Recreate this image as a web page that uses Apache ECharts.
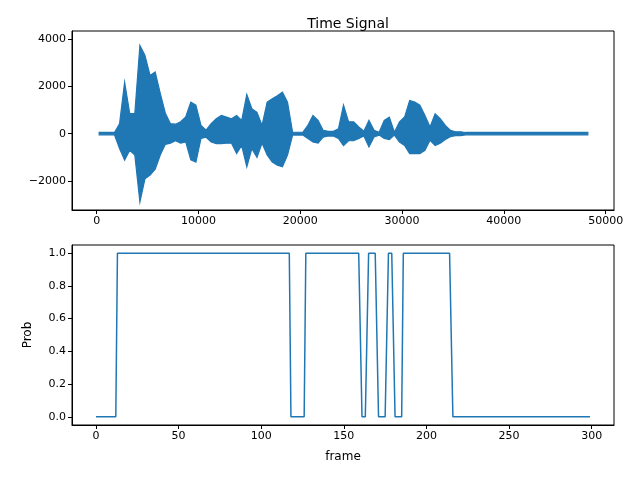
<!DOCTYPE html>
<html>
<head>
<meta charset="utf-8">
<script src="https://cdn.jsdelivr.net/npm/echarts@6/dist/echarts.min.js"></script>
<style>html,body{margin:0;padding:0;background:#fff}#EchartBox{width:640px;height:480px}</style>
</head>
<body>
<div id="EchartBox"></div>
<script>
// waveform envelope, one value per 500 samples
var binSize = 500;
var envHigh = [50,50,50,50,420,2170,850,850,3720,3300,2450,2600,1700,860,420,400,500,700,1330,1200,
	350,150,420,630,770,700,630,770,560,1650,1050,900,350,1330,1470,1600,1750,1330,60,60,
	60,350,770,560,140,100,100,200,1200,500,500,280,100,560,140,60,560,700,60,500,
	700,1400,1330,1200,770,280,840,630,350,140,80,80,50,50,50,50,50,50,50,50,
	50,50,50,50,50,50,50,50,50,50,50,50,50,50,50,50,50];
var envLow = [-50,-50,-50,-50,-630,-1120,-700,-900,-2880,-1900,-1750,-1500,-900,-450,-400,-300,-400,-350,-1100,-1200,
	-200,-150,-350,-420,-420,-400,-400,-840,-500,-1400,-630,-1000,-400,-900,-1200,-1330,-1400,-900,-60,-60,
	-60,-200,-350,-400,-150,-100,-100,-200,-500,-300,-300,-200,-100,-560,-140,-60,-200,-250,-60,-350,
	-500,-840,-840,-840,-700,-280,-500,-400,-250,-130,-80,-80,-50,-50,-50,-50,-50,-50,-50,-50,
	-50,-50,-50,-50,-50,-50,-50,-50,-50,-50,-50,-50,-50,-50,-50,-50,-50];

// speech probability per frame, as runs [firstFrame, lastFrame, value]
var probRuns = [[0,12,0],[13,117,1],[118,126,0],[127,160,1],[161,164,0],[165,170,1],
	[171,176,0],[177,180,1],[181,185,0],[186,215,1],[216,299,0]];

var topXTicks = [0,10000,20000,30000,40000,50000];
var topYTicks = [-2000,0,2000,4000];
var botXTicks = [0,50,100,150,200,250,300];
var botYTicks = [0,0.2,0.4,0.6,0.8,1.0];

var wave = [];
for (var i = 0; i < envHigh.length; i++) {
	wave.push([i*binSize + binSize/2, envHigh[i], envLow[i]]);
}
var prob = [];
for (var r = 0; r < probRuns.length; r++) {
	for (var f = probRuns[r][0]; f <= probRuns[r][1]; f++) prob.push([f, probRuns[r][2]]);
}

var font = 'DejaVu Sans';
function axis(min, max, ticks, fmt) {
	return {
		type:'value', min:min, max:max,
		splitLine:{show:false},
		axisLine:{show:true, onZero:false, lineStyle:{color:'#000', width:1}},
		axisTick:{show:true, inside:false, length:4, lineStyle:{color:'#000'}, customValues:ticks},
		axisLabel:{color:'#000', fontFamily:font, fontSize:11, customValues:ticks, formatter:fmt, margin:6}
	};
}
var xa1 = axis(-2420, 50820, topXTicks, function(v){return String(v);});
var ya1 = axis(-3220, 4330, topYTicks, function(v){return v<0?'\u2212'+(-v):String(v);});
var xa2 = axis(-14.5, 313.5, botXTicks, function(v){return String(v);});
xa2.gridIndex = 1; xa2.name = 'frame'; xa2.nameLocation = 'middle'; xa2.nameGap = 26;
xa2.nameTextStyle = {color:'#000', fontFamily:font, fontSize:12};
var ya2 = axis(-0.05, 1.05, botYTicks, function(v){return v.toFixed(1);});
ya2.gridIndex = 1; ya2.name = 'Prob'; ya2.nameLocation = 'middle'; ya2.nameGap = 38;
ya2.nameTextStyle = {color:'#000', fontFamily:font, fontSize:12};

// filled envelope polygon: upper edge left to right, lower edge back
function renderWave(params, api) {
	if (params.dataIndex !== 0) return;
	var pts = [];
	for (var i = 0; i < wave.length; i++) pts.push(api.coord([wave[i][0], wave[i][1]]));
	for (var j = wave.length - 1; j >= 0; j--) pts.push(api.coord([wave[j][0], wave[j][2]]));
	return {type:'polygon', shape:{points:pts},
		style:{fill:'#1f77b4', stroke:'#1f77b4', lineWidth:1.2}};
}

var myChart = echarts.init(document.getElementById('EchartBox'));
myChart.setOption({
	backgroundColor:'#fff',
	animation:false,
	title:{text:'Time Signal', left:343, top:12, textAlign:'center',
		textStyle:{color:'#000', fontFamily:font, fontSize:14, fontWeight:'normal'}},
	grid:[
		{left:72, right:26, top:31, height:179, show:true, borderColor:'#000', borderWidth:1, backgroundColor:'transparent'},
		{left:72, right:26, top:245, height:180, show:true, borderColor:'#000', borderWidth:1, backgroundColor:'transparent'}
	],
	xAxis:[xa1, xa2],
	yAxis:[ya1, ya2],
	series:[
		{type:'custom', xAxisIndex:0, yAxisIndex:0, data:wave, renderItem:renderWave, clip:true},
		{type:'line', xAxisIndex:1, yAxisIndex:1, data:prob, showSymbol:false,
			lineStyle:{color:'#1f77b4', width:1.5}}
	]
});
</script>
</body>
</html>
